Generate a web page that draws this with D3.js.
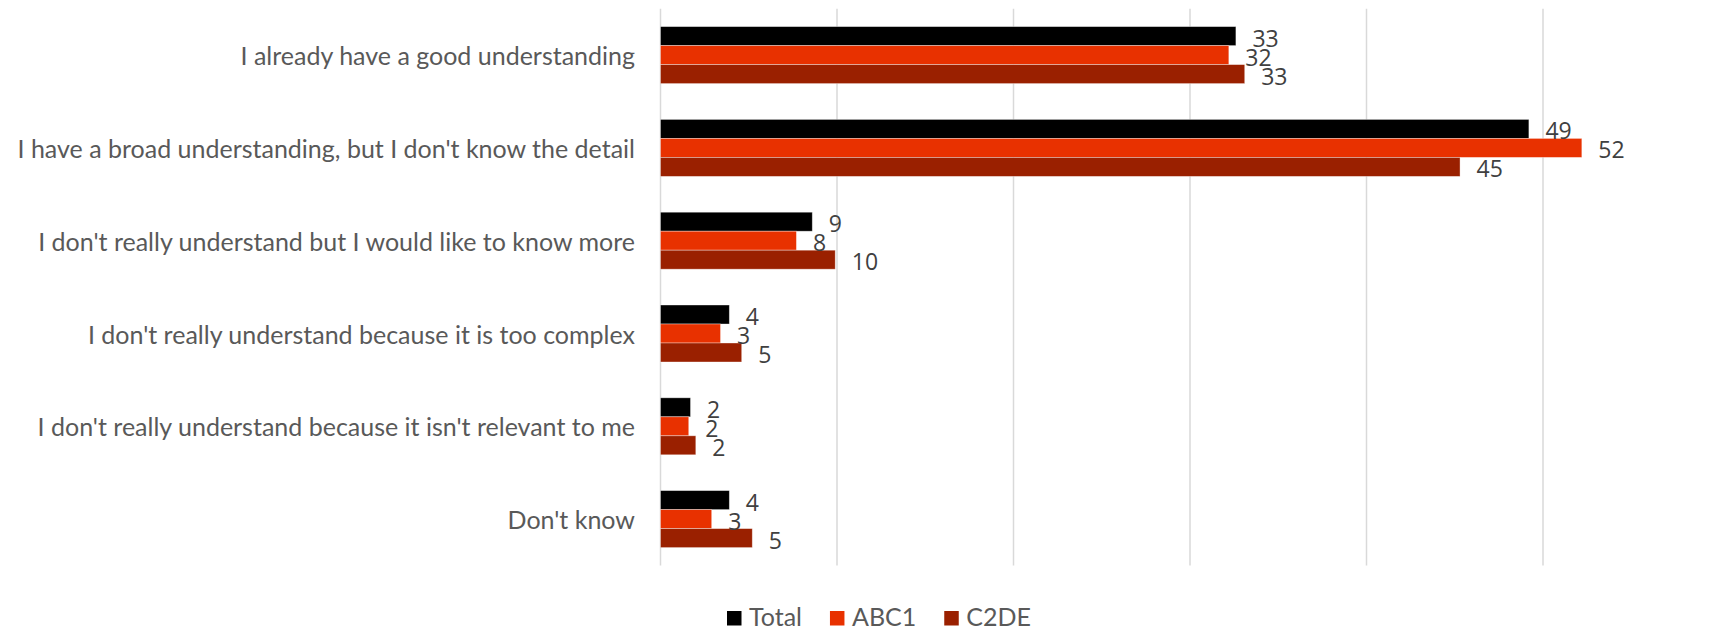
<!DOCTYPE html>
<html>
<head>
<meta charset="utf-8">
<script src="https://cdn.jsdelivr.net/npm/d3@7"></script>
<style>
  html, body { margin: 0; padding: 0; background: #ffffff; }
  svg { display: block; }
  text { font-family: Lato, "Noto Sans", sans-serif; }
  .value-label { font-family: "Open Sans", "Noto Sans", sans-serif; }
</style>
</head>
<body>
<svg id="chart" width="1711" height="629"></svg>
<script>
// Survey responses (%), by social grade
const categories = [
  "I already have a good understanding",
  "I have a broad understanding, but I don't know the detail",
  "I don't really understand but I would like to know more",
  "I don't really understand because it is too complex",
  "I don't really understand because it isn't relevant to me",
  "Don't know"
];
const seriesNames = ["Total", "ABC1", "C2DE"];
const totalValues = [32.6, 49.2, 8.6, 3.9, 1.7, 3.9];
const abc1Values  = [32.2, 52.2, 7.7, 3.4, 1.6, 2.9];
const c2deValues  = [33.1, 45.3, 9.9, 4.6, 2.0, 5.2];
const gridTicks = [0, 10, 20, 30, 40, 50];
const seriesColors = ["#000000", "#e83100", "#9a2000"];

const seriesValues = [totalValues, abc1Values, c2deValues];
const rows = categories.map((c, i) => ({
  category: c,
  values: seriesNames.map((s, j) => ({ series: s, value: seriesValues[j][i] }))
}));

const svg = d3.select("#chart");
const plotTop = 8.7, plotBottom = 565.5, plotLeft = 660.5;

const x = d3.scaleLinear().domain([0, 60]).range([plotLeft, plotLeft + 60 * 17.65]);
const y = d3.scaleBand().domain(categories).range([plotTop, plotBottom])
  .paddingInner(0.386).paddingOuter(0.193);
const ySub = d3.scaleBand().domain(seriesNames).range([0, y.bandwidth()]);
const color = d3.scaleOrdinal().domain(seriesNames).range(seriesColors);

// vertical gridlines
svg.append("g").selectAll("line").data(gridTicks).join("line")
  .attr("x1", d => x(d)).attr("x2", d => x(d))
  .attr("y1", plotTop).attr("y2", plotBottom)
  .attr("stroke", "#d9d9d9").attr("stroke-width", 1.5);

// category labels
svg.append("g").selectAll("text").data(categories).join("text")
  .attr("x", 635)
  .attr("y", d => y(d) + y.bandwidth() / 2)
  .attr("text-anchor", "end")
  .attr("dominant-baseline", "central")
  .attr("font-size", 25)
  .attr("fill", "#595959")
  .text(d => d);

// grouped bars
const groups = svg.append("g").selectAll("g").data(rows).join("g")
  .attr("transform", d => `translate(0,${y(d.category)})`);

groups.selectAll("rect").data(d => d.values).join("rect")
  .attr("x", x(0))
  .attr("y", d => ySub(d.series))
  .attr("width", d => x(d.value) - x(0))
  .attr("height", ySub.bandwidth())
  .attr("fill", d => color(d.series))
  .attr("stroke", "#ffffff").attr("stroke-opacity", 0.45).attr("stroke-width", 0.8);

// value labels
const fmt = d3.format(".0f");
groups.selectAll("text").data(d => d.values).join("text")
  .attr("class", "value-label")
  .attr("x", d => x(d.value) + 16.5)
  .attr("y", d => ySub(d.series) + ySub.bandwidth() / 2 + 1.5)
  .attr("dominant-baseline", "central")
  .attr("font-size", 23)
  .attr("fill", "#404040")
  .text(d => fmt(d.value));

// legend
const legend = svg.append("g").attr("transform", "translate(727,611)");
let lx = 0;
seriesNames.forEach(name => {
  const item = legend.append("g").attr("transform", `translate(${lx},0)`);
  item.append("rect").attr("width", 14.5).attr("height", 14.5).attr("fill", color(name));
  const t = item.append("text")
    .attr("x", 22).attr("y", 14.5)
    .attr("font-size", 25)
    .attr("fill", "#595959")
    .text(name);
  lx += 22 + t.node().getComputedTextLength() + 28;
});
</script>
</body>
</html>
